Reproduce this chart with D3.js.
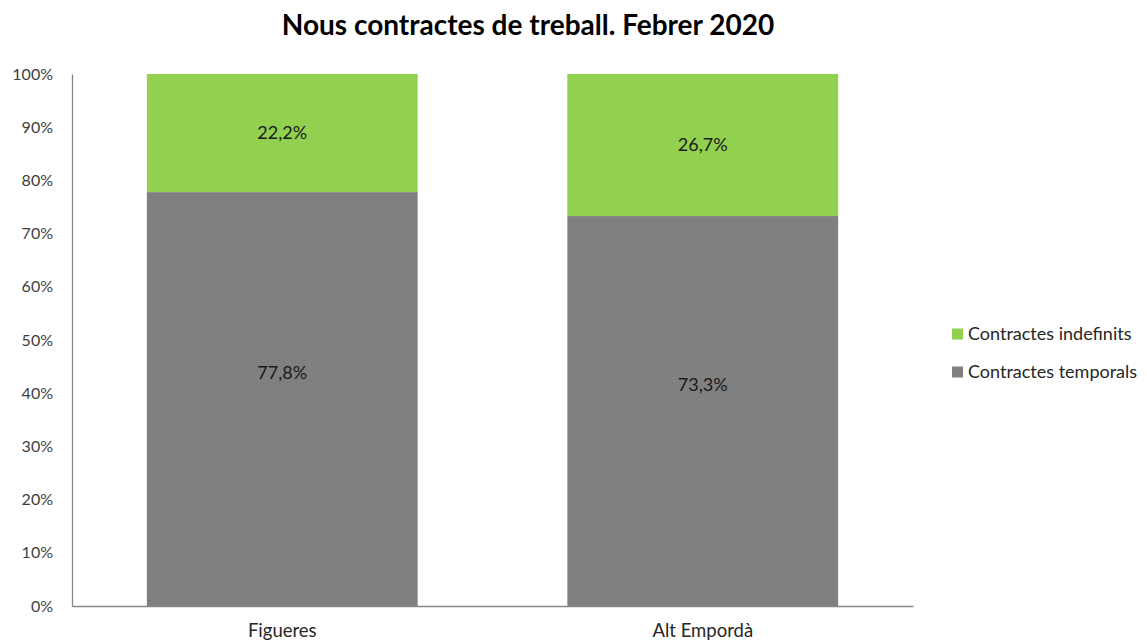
<!DOCTYPE html>
<html>
<head>
<meta charset="utf-8">
<script src="https://cdn.jsdelivr.net/npm/d3@7"></script>
<style>
  body { margin: 0; background: #fff; }
  svg text { font-family: Lato, "Open Sans", sans-serif; }
</style>
</head>
<body>
<div id="chart"></div>
<script>
const categories = ["Figueres", "Alt Empordà"];
const temporals = [77.8, 73.3];
const indefinits = [22.2, 26.7];
const seriesNames = ["Contractes indefinits", "Contractes temporals"];
const yTicks = [0, 10, 20, 30, 40, 50, 60, 70, 80, 90, 100];

const width = 1147, height = 642;
const margin = { top: 74, right: 234, bottom: 36, left: 72 };

const svg = d3.select("#chart").append("svg")
  .attr("width", width)
  .attr("height", height);

const x = d3.scaleBand()
  .domain(categories)
  .range([margin.left, width - margin.right])
  .paddingInner(0.356)
  .paddingOuter(0.178);

const y = d3.scaleLinear()
  .domain([0, 100])
  .range([height - margin.bottom, margin.top]);

const color = d3.scaleOrdinal()
  .domain(seriesNames)
  .range(["#92d050", "#808080"]);

// stacked rows
const rows = categories.map((c, i) => ({
  cat: c,
  "Contractes temporals": temporals[i],
  "Contractes indefinits": indefinits[i],
}));
const stack = d3.stack().keys(["Contractes temporals", "Contractes indefinits"]);
const layers = stack(rows);

const layerG = svg.append("g")
  .selectAll("g")
  .data(layers)
  .join("g")
  .attr("fill", (d) => color(d.key));

layerG.selectAll("rect")
  .data((d) => d)
  .join("rect")
  .attr("x", (d) => x(d.data.cat))
  .attr("width", x.bandwidth())
  .attr("y", (d) => y(d[1]))
  .attr("height", (d) => y(d[0]) - y(d[1]));

// data labels (the lower ones sit a bit above the middle, like in Excel)
layerG.selectAll("text")
  .data((d) => d.map((v) => ({ v, key: d.key })))
  .join("text")
  .attr("x", (d) => x(d.v.data.cat) + x.bandwidth() / 2)
  .attr("y", (d) => y((d.v[0] + d.v[1]) / 2) - (d.key === "Contractes temporals" ? 26 : 0))
  .attr("dy", "0.35em")
  .attr("text-anchor", "middle")
  .attr("fill", "#1a1a1a")
  .attr("font-size", 18)
  .text((d) => d3.format(".1f")(d.v.data[d.key]).replace(".", ",") + "%");

// y axis
const yAxis = svg.append("g")
  .attr("transform", `translate(${margin.left},0)`)
  .call(d3.axisLeft(y).tickValues(yTicks).tickSize(0).tickPadding(19)
    .tickFormat((d) => d + "%"));
yAxis.select(".domain").attr("stroke", "#868686").attr("stroke-width", 1.3);
yAxis.selectAll("text").attr("font-size", 16).attr("fill", "#404040")
  .attr("font-family", "Lato, sans-serif");

// x axis
const xAxis = svg.append("g")
  .attr("transform", `translate(0,${height - margin.bottom})`)
  .call(d3.axisBottom(x).tickSize(0).tickPadding(18));
xAxis.select(".domain").attr("stroke", "#868686").attr("stroke-width", 1.3);
xAxis.selectAll("text").attr("font-size", 18.5).attr("fill", "#262626")
  .attr("font-family", "Lato, sans-serif");

// title
svg.append("text")
  .attr("x", 528)
  .attr("y", 35)
  .attr("text-anchor", "middle")
  .attr("font-size", 28)
  .attr("font-weight", "bold")
  .attr("fill", "#000")
  .text("Nous contractes de treball. Febrer 2020");

// legend
const legend = svg.append("g")
  .selectAll("g")
  .data(seriesNames)
  .join("g")
  .attr("transform", (d, i) => `translate(952,${334 + i * 38})`);
legend.append("rect")
  .attr("y", -5.5)
  .attr("width", 11)
  .attr("height", 11)
  .attr("fill", (d) => color(d));
legend.append("text")
  .attr("x", 16)
  .attr("dy", "0.35em")
  .attr("font-size", 18)
  .attr("fill", "#262626")
  .text((d) => d);
</script>
</body>
</html>
